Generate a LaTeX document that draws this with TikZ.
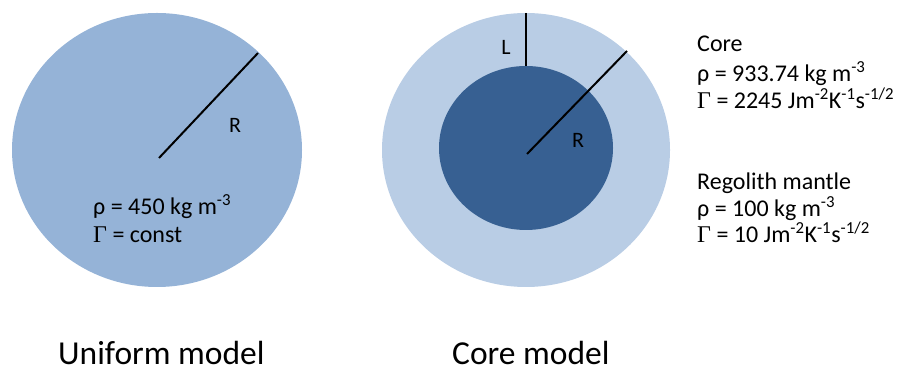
\documentclass[tikz,border=0pt]{standalone}
\usepackage{fontspec}
\setmainfont{Carlito}
\newfontfamily\gammafont{Liberation Serif}
\usepackage{xcolor}
\definecolor{cUni}{HTML}{95B3D7}
\definecolor{cMantle}{HTML}{B9CDE5}
\definecolor{cCore}{HTML}{376092}
\usetikzlibrary{positioning, shapes.geometric}
\newcommand{\Gm}{{\gammafont Γ}}
\newcommand{\up}[1]{\textsuperscript{#1}}

\begin{document}
\begin{tikzpicture}[x=1pt, y=1pt,
    body/.style={ellipse, inner sep=0pt, outer sep=0pt, draw=none},
    rad/.style={line width=2pt, black},
    lbl/.style={inner sep=0pt, font=\fontsize{22}{26}\selectfont},
    txt/.style={anchor=base west, inner sep=0pt, font=\fontsize{24}{28}\selectfont},
    title/.style={anchor=base west, inner sep=0pt, font=\fontsize{33.5}{40}\selectfont}
]
\useasboundingbox (0,0) rectangle (912,374);

% uniform model
\node[body, fill=cUni, minimum width=290pt, minimum height=274pt] (uni) at (157,224) {};
\coordinate (uniC) at (159,216);
\coordinate (uniR) at (258,321);
\draw[rad] (uniC) -- (uniR);
\node[lbl] (uniRlbl) at (235,249) {R};
\node[txt] (uniRho) at (93,159) {ρ = 450 kg m\up{-3}};
\node[txt] (uniGam) at (93,131) {\Gm{} = const};

% core model
\node[body, fill=cMantle, minimum width=288pt, minimum height=274pt] (mantle) at (526,224) {};
\node[body, fill=cCore, minimum width=174pt, minimum height=164pt] (core) at (526,226) {};
\coordinate (coreC) at (527,220);
\coordinate (mantleR) at (627,323);
\draw[rad] (core.north) -- (mantle.north);
\draw[rad] (coreC) -- (mantleR);
\node[lbl] (Llbl) at (506,327) {L};
\node[lbl] (coreRlbl) at (578,234) {R};

% parameters
\node[txt] (coreHd) at (697,322) {Core};
\node[txt] (coreRho) at (697,292) {ρ = 933.74 kg m\up{-3}};
\node[txt] (coreGam) at (697,265) {\Gm{} = 2245 Jm\up{-2}K\up{-1}s\up{-1/2}};
\node[txt] (mantleHd) at (697,184) {Regolith mantle};
\node[txt] (mantleRho) at (697,157) {ρ = 100 kg m\up{-3}};
\node[txt] (mantleGam) at (697,131) {\Gm{} = 10 Jm\up{-2}K\up{-1}s\up{-1/2}};

% captions
\node[title] (uniCap) at (58,9) {Uniform model};
\node[title] (coreCap) at (452,9) {Core model};
\end{tikzpicture}
\end{document}
